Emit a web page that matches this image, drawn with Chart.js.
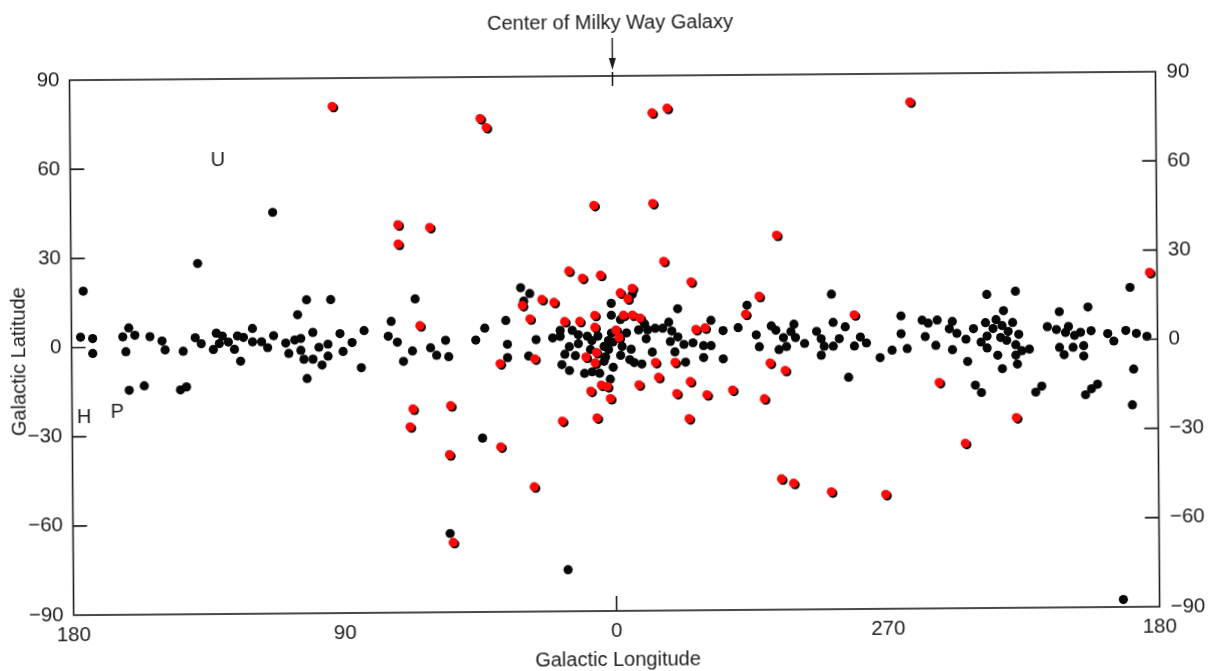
<!DOCTYPE html>
<html>
<head>
<meta charset="utf-8">
<script src="https://cdn.jsdelivr.net/npm/chart.js@4.4.1/dist/chart.umd.min.js"></script>
<style>
  html, body { margin: 0; padding: 0; background: #fff; overflow: hidden; }
  #wrap { position: absolute; left: 0; top: 0; width: 1212px; height: 671px;
          transform: rotate(-0.45deg); transform-origin: 606px 335px; }
  canvas { display: block; }
</style>
</head>
<body>
<div id="wrap"><canvas id="sky" width="1212" height="671"></canvas></div>
<script>
// Longitude axis: 180 at the left, 0 (galactic centre) in the middle, back to 180 on the right
const lonTickPositions = [-180, -90, 0, 90, 180];
const lonTickLabels = ['180', '90', '0', '270', '180'];
const latTicks = [-90, -60, -30, 0, 30, 60, 90];
const latTickLabels = ['\u221290', '\u221260', '\u221230', '0', '30', '60', '90'];

// Objects plotted in black (galactic longitude l, latitude b, degrees)
const blackLon = [176,138,177,173,173,163,161,159,162,154,150,149,143,139,137,133,132,131,130,128,126,125,123,120,120,124,
  161,156,144,142,113,102,94,66,105,74,43,46,117,115,113,109,108,106,104,104,100,103,100,102,98,95,95,97,91,90,87,83,84,
  75,72,67,70,61,59,56,55,55,44,16,31,28,30,354,1,339,316,36,1,358,350,352,1,356,342,346.5,344,349,341,339,349.5,341.5,
  337,334,328,324,319,313,312,330.5,328,330.5,324,336.5,340,347.5,354.5,358,355,353.5,351,357.5,0.5,2,2,3.5,3,3.5,0.5,
  1.5,5,8,9,12,14,18,18,20.5,12,15,7.5,5.5,13,16.5,17.5,15,10,7.5,26,35.5,35.5,28.5,288,308,306.5,304,300.5,301.5,300,
  305.5,303,297,293,291.5,290.5,291.5,287.5,285.5,287.5,283.5,278.5,276.5,280.5,282.5,272,268,263,265,265,258,256,253,
  257,253.5,248,249,246.5,248,189,236.5,227,203,212.5,231,243.5,241,243,238.5,236.5,237,236.5,234.5,233.5,231.5,229.5,
  228,226,232,230,227,233,227,225,222.5,231.5,226.5,216.5,213.5,209.5,210.5,207.5,205.5,202,212.5,208,204.5,211,204.5,
  196.5,194.5,190.5,187,183.5,188,240.5,238.5,220.5,218.5,204,202,200,188.5,192];
const blackLat = [19,28,3.5,3,-2,3.5,6.5,4,-1.5,3.5,2,-1,-1.5,3,1,-1,4.5,1,3.5,1.5,-1,3.5,3,6,1.5,-5,
  -14.5,-13,-14.5,-13.5,45,15.5,15.5,15.5,10.5,8,5.5,1.5,1.5,-0.5,3.5,1,-2.5,2,2.5,-1.5,4.5,-4.5,-4.5,-11,-0.5,0.5,-3.5,-6.5,4,-2,1,5,-7.5,
  3,1,-2,-5.5,-1,-3.5,1.5,-4,-63.5,-31.5,-76,19,17,14.5,16.5,13.5,11.5,12.5,8,9.5,8,6.5,4.5,3.5,3.5,7,5,5,4.5,4,2,1.5,0.5,
  -0.5,0,7.5,4,5,2.5,-1.5,-1,-1,-5,-5.5,-6.5,-3,-3,-2,-4,-5.5,-6.5,-7,-1,0.5,1,-2,-1,-4.5,-6,-8,
  -12,-10,-2,2.5,3,4.5,4.5,2.5,2,0,-1,1,2.5,-4,-3.5,-7,-9,-10,-9.5,1.5,0,-4.5,-4,16,5.5,4,1.5,6,3.5,1.5,
  -2.5,-1.5,-0.5,3.5,1,-1.5,-4.5,6.5,1,-1.5,5,1.5,-0.5,-1.5,-12,-5.5,-3,-2.5,2.5,8.5,7,6,7,
  1.5,-1.5,6.5,4,2.5,-3,17.5,15.5,16.5,11,9.5,10,0.5,4,-7,-0.5,-2.5,6,1.5,4,7,5,3,
  6,2,1,0,-1.5,-5,-5,-3.5,-3,-9.5,-8,4.5,3.5,4.5,2.5,1.5,2.5,3,-2.5,-2.5,-2,-5,-5.5,
  2,-0.5,3,2,1,-10,-15,-17.5,-17.5,-15.5,-18.5,-16.5,-15,-22,-87.5];

// Objects plotted in red
const redLon = [93,44,42,347,342,261.5,71.5,61,71.5,64.5,67,68,54.5,38,38,55,54,27,343.5,15,10.5,4.5,334.5,24,20,30.5,
  358,354,355.5,312,316.5,28,16.5,11.5,6.5,6.5,357,354,351.5,359.5,358.5,333,330,6,6.5,9.5,26.5,340,346.5,345.5,352,
  4.5,2.5,8,1.5,339.5,335,329.5,321,17.5,6,335.5,280.5,308.5,303.5,310.5,252.5,182.5,6.5,347,306,305,301,288.5,270.5,
  244,227];
const redLat = [80.5,76,73,77.5,79,80.5,40.5,39.5,34,6.5,-21.5,-27.5,-20.5,-6.5,-34.5,-37,-66.5,-48,27.5,24.5,22,23,20.5,15,14,13,
  17,18.5,15,15.5,9.5,8.5,7.5,7.5,9.5,5.5,9.5,9.5,8.5,4.5,2,4.5,5,-3,-6.5,-4.5,-5,-6.5,-6.5,-11.5,-14,
  -14,-14.5,-16,-18.5,-17,-13,-17.5,-16,-26,-25,-25.5,9,-7,-9.5,-19,-14,22.5,46.5,47,36,-46,-47.5,-50.5,-51.5,
  -34.5,-26];

// Lettered markers
const markerLetters = ['U', 'H', 'P'];
const markerLon = [131, 176, 165];
const markerLat = [62.5, -23.5, -22];

const FONT = "'Liberation Sans', Arial, Helvetica, sans-serif";
const INK = '#1c1c1c';

// 0..360 longitude -> position on the 180 | 0 | 180 axis
const toAxis = l => (l <= 180 ? -l : 360 - l);
const points = (lons, lats) => lons.map((l, i) => ({ x: toAxis(l), y: lats[i] }));

const frameAndLabels = {
  id: 'frameAndLabels',
  beforeDatasetDraw(chart, args) {
    if (chart.data.datasets[args.index].shadowed) {
      const ctx = chart.ctx;
      ctx.save();
      ctx.shadowColor = '#000';
      ctx.shadowBlur = 0;
      ctx.shadowOffsetX = 1.5;
      ctx.shadowOffsetY = 1.5;
    }
  },
  afterDatasetDraw(chart, args) {
    if (chart.data.datasets[args.index].shadowed) chart.ctx.restore();
  },
  afterDraw(chart) {
    const ctx = chart.ctx;
    const a = chart.chartArea;
    const xs = chart.scales.x, ys = chart.scales.y;
    ctx.save();
    ctx.strokeStyle = INK;
    ctx.lineWidth = 1.6;
    ctx.strokeRect(a.left, a.top, a.right - a.left, a.bottom - a.top);

    // inward tick marks on both latitude axes
    ctx.beginPath();
    latTicks.forEach(v => {
      if (Math.abs(v) === 90) return;
      const y = ys.getPixelForValue(v);
      ctx.moveTo(a.left, y); ctx.lineTo(a.left + 14, y);
      ctx.moveTo(a.right, y); ctx.lineTo(a.right - 14, y);
    });
    const x0 = xs.getPixelForValue(0);
    ctx.moveTo(x0, a.bottom); ctx.lineTo(x0, a.bottom - 15);
    ctx.moveTo(x0, a.top - 4); ctx.lineTo(x0, a.top + 10);
    ctx.stroke();

    // arrow to the galactic centre
    ctx.lineWidth = 1.4;
    ctx.beginPath();
    ctx.moveTo(x0, 38); ctx.lineTo(x0, a.top - 14);
    ctx.stroke();
    ctx.fillStyle = INK;
    ctx.beginPath();
    ctx.moveTo(x0 - 3.5, a.top - 18);
    ctx.lineTo(x0 + 3.5, a.top - 18);
    ctx.lineTo(x0, a.top - 6);
    ctx.closePath();
    ctx.fill();

    ctx.fillStyle = INK;
    ctx.textAlign = 'center';
    ctx.textBaseline = 'middle';
    ctx.font = '20px ' + FONT;
    ctx.fillText('Center of Milky Way Galaxy', x0 - 2, 23);
    ctx.fillText('Galactic Longitude', x0 + 1, 660);

    ctx.save();
    ctx.translate(19, 357);
    ctx.rotate(-Math.PI / 2);
    ctx.fillText('Galactic Latitude', 0, 0);
    ctx.restore();

    markerLetters.forEach((t, i) => {
      ctx.fillText(t, xs.getPixelForValue(toAxis(markerLon[i])), ys.getPixelForValue(markerLat[i]));
    });
    ctx.restore();
  }
};

const tickFont = { family: FONT, size: 20.5 };

new Chart(document.getElementById('sky'), {
  type: 'scatter',
  data: {
    datasets: [
      { label: 'red', data: points(redLon, redLat), backgroundColor: '#ff0808', borderWidth: 0,
        pointRadius: 4.6, pointHoverRadius: 4.6, shadowed: true, clip: false },
      { label: 'black', data: points(blackLon, blackLat), backgroundColor: '#080808', borderWidth: 0,
        pointRadius: 4.6, pointHoverRadius: 4.6, clip: false }
    ]
  },
  options: {
    responsive: false,
    animation: false,
    devicePixelRatio: 1,
    events: [],
    layout: { padding: { left: 0, right: 0, top: 76, bottom: 0 } },
    plugins: { legend: { display: false }, tooltip: { enabled: false } },
    scales: {
      x: {
        type: 'linear', min: -180, max: 180,
        afterBuildTicks: s => { s.ticks = lonTickPositions.map(v => ({ value: v })); },
        afterFit: s => { s.height = 60; },
        grid: { display: false, drawTicks: false },
        border: { display: false },
        ticks: { autoSkip: false, maxRotation: 0, padding: 8, color: INK, font: tickFont,
                 callback: (v, i) => lonTickLabels[i] }
      },
      y: {
        type: 'linear', position: 'left', min: -90, max: 90,
        afterBuildTicks: s => { s.ticks = latTicks.map(v => ({ value: v })); },
        afterFit: s => { s.width = 71.5; },
        grid: { display: false, drawTicks: false },
        border: { display: false },
        ticks: { padding: 10, color: INK, font: tickFont, callback: (v, i) => latTickLabels[i] }
      },
      y2: {
        type: 'linear', position: 'right', min: -90, max: 90,
        afterBuildTicks: s => { s.ticks = latTicks.map(v => ({ value: v })); },
        afterFit: s => { s.width = 54.5; },
        grid: { display: false, drawTicks: false },
        border: { display: false },
        ticks: { padding: 11, color: INK, font: tickFont, callback: (v, i) => latTickLabels[i] }
      }
    }
  },
  plugins: [frameAndLabels]
});
</script>
</body>
</html>
